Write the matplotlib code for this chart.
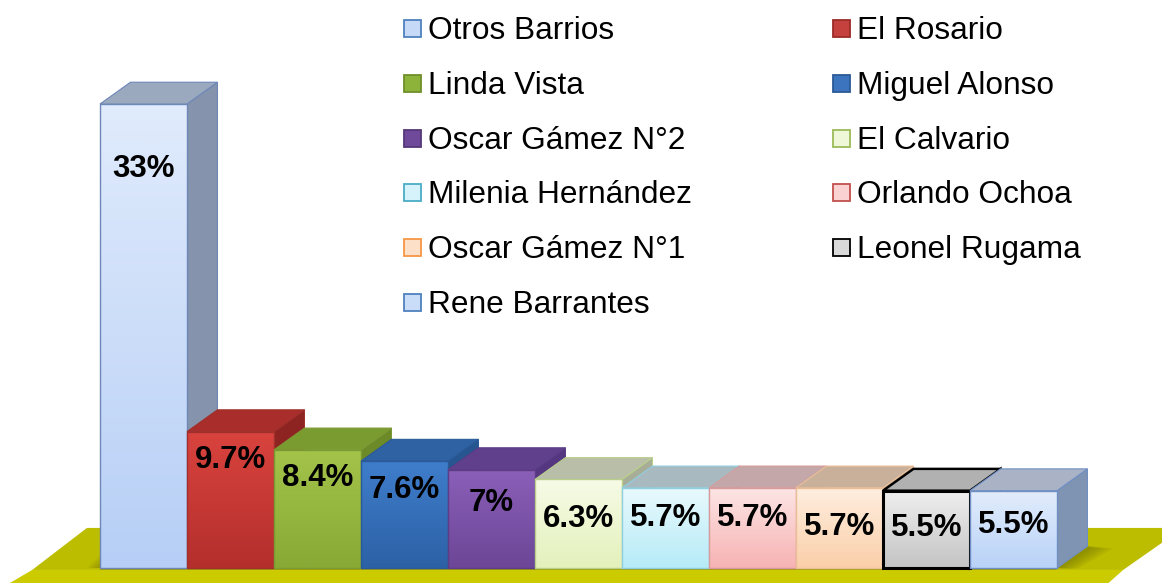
import numpy as np
import matplotlib
matplotlib.use("Agg")
import matplotlib.pyplot as plt
from matplotlib.patches import Polygon, Rectangle
from matplotlib.colors import LinearSegmentedColormap

plt.rcParams['font.family'] = ['Liberation Sans', 'DejaVu Sans']

# ---------------- data ----------------
categories = ["Otros Barrios", "El Rosario", "Linda Vista", "Miguel Alonso",
              "Oscar Gámez N°2", "El Calvario", "Milenia Hernández",
              "Orlando Ochoa", "Oscar Gámez N°1", "Leonel Rugama",
              "Rene Barrantes"]
values = [33, 9.7, 8.4, 7.6, 7, 6.3, 5.7, 5.7, 5.7, 5.5, 5.5]
value_labels = ["33%", "9.7%", "8.4%", "7.6%", "7%", "6.3%", "5.7%",
                "5.7%", "5.7%", "5.5%", "5.5%"]

# ---------------- styles ----------------
front_top = ["#e0ebfc", "#d9433e", "#a3c34a", "#3f7dcb", "#8a5fb8", "#f6fbe6",
             "#e9f9fd", "#fde5e5", "#feeedf", "#efefef", "#e2edfc"]
front_bot = ["#b7cff6", "#b42f2c", "#88aa35", "#2c61a6", "#6c4697", "#e4f1bc",
             "#b6ebf7", "#f7b3b3", "#fbcfaa", "#c4c4c4", "#b9d2f7"]
top_col = ["#9ba9be", "#a92d2a", "#7a9b2f", "#2e62a3", "#603f8c", "#b8bea7",
           "#a9b9c0", "#c4a7a8", "#c9b09a", "#b1b1b1", "#a9b3c5"]
side_col = ["#8594ac", "#8e2422", "#6d8a29", "#275590", "#543780", "#a7ad96",
            "#98a8af", "#b39899", "#b6a08c", "#9e9e9e", "#7f93b3"]
edge_col = ["#6d87b8", "#a0302c", "#7c9a33", "#2a5a99", "#5c3d86", "#b9cf8a",
            "#8fcfe0", "#d89a9a", "#eabf98", "#000000", "#6f8fc4"]
edge_w = [1.0, 1.0, 1.0, 1.0, 1.0, 1.0, 1.0, 1.0, 1.0, 2.2, 1.0]
legend_face = ["#c6d9f7", "#c4413d", "#8db33a", "#3c74be", "#6f4a9b", "#eef8d8",
               "#d6f3fb", "#fbd2d2", "#fde0c8", "#d9d9d9", "#c9dcf8"]
legend_edge = ["#4f81bd", "#9c2b28", "#6e8f2a", "#2b5a96", "#553878", "#9bbb59",
               "#4bacc6", "#c0504d", "#f79646", "#000000", "#4f81bd"]
label_drop = [4.6, 2.0, 2.0, 2.05, 2.38, 2.81, 2.14, 2.14, 2.78, 2.65, 2.44]

W_PX, H_PX = 1162, 583
fig = plt.figure(figsize=(W_PX / 100, H_PX / 100), dpi=100)
ax = fig.add_axes([0, 0, 1, 1])
ax.set_axis_off()

n = len(values)
DX, DY = 0.35, 1.55          # 3-D depth offsets (x in bar units, y in %)
XLIM = (-1.6494, 11.7069)
YLIM = (-1.067, 40.398)

# ---------------- floor ----------------
floor_back = 2.85
floor_front = -0.14
floor_bot = -1.3
ax.add_patch(Polygon([(-0.65, floor_back), (n + 0.95, floor_back),
                      (n + 0.26, floor_front), (-1.28, floor_front)],
                     closed=True, facecolor="#bdbd00", edgecolor="none", zorder=1))
ax.add_patch(Polygon([(-1.28, floor_front), (n + 0.26, floor_front),
                      (n + 0.05, floor_bot), (-1.6, floor_bot)],
                     closed=True, facecolor="#cbcb00", edgecolor="none", zorder=1))
# soft shadows on floor
for k in range(6):
    s = 0.05 * (k + 1)
    ax.add_patch(Polygon([(n - 0.5, 0), (n - 0.5 + DX, DY),
                          (n - 0.5 + DX + s, DY - 0.15), (n - 0.5 + s * 0.8, -0.05)],
                         closed=True, facecolor="#4a4a00", alpha=0.07,
                         edgecolor="none", zorder=2))
    ax.add_patch(Polygon([(-0.5, 0), (-0.5 + DX, DY),
                          (-0.5 + DX - s * 0.8, DY + 0.1), (-0.5 - s * 0.5, 0.0)],
                         closed=True, facecolor="#4a4a00", alpha=0.06,
                         edgecolor="none", zorder=2))
ax.add_patch(Polygon([(-0.5, -0.02), (n - 0.5, -0.02), (n - 0.5, -0.14),
                      (-0.5, -0.14)], closed=True, facecolor="#5a5a00",
                     alpha=0.3, edgecolor="none", zorder=2))

# ---------------- bars ----------------
x = np.arange(n)
bars = ax.bar(x, values, width=1.0, color="none", edgecolor="none", zorder=3)
grad = np.linspace(0, 1, 64).reshape(-1, 1)
for i, (b, v) in enumerate(zip(bars, values)):
    z = 5 + i * 4
    x0 = b.get_x()
    w = b.get_width()
    # side face
    ax.add_patch(Polygon([(x0 + w, 0), (x0 + w + DX, DY), (x0 + w + DX, v + DY),
                          (x0 + w, v)], closed=True, facecolor=side_col[i],
                         edgecolor=edge_col[i], linewidth=edge_w[i] * 0.8, zorder=z))
    # front face gradient (light top -> darker bottom)
    cmap = LinearSegmentedColormap.from_list("g%d" % i, [front_top[i], front_bot[i]])
    clip = Rectangle((x0, 0), w, v, transform=ax.transData)
    im = ax.imshow(grad, cmap=cmap, extent=[x0, x0 + w, 0, v], aspect="auto",
                   origin="upper", zorder=z + 1, interpolation="bilinear")
    im.set_clip_path(clip)
    ax.add_patch(Rectangle((x0, 0), w, v, facecolor="none", edgecolor=edge_col[i],
                           linewidth=edge_w[i], zorder=z + 2))
    # top face
    ax.add_patch(Polygon([(x0, v), (x0 + w, v), (x0 + w + DX, v + DY), (x0 + DX, v + DY)],
                         closed=True, facecolor=top_col[i], edgecolor=edge_col[i],
                         linewidth=edge_w[i] * 0.8, zorder=z + 2))
    # value label
    ax.text(x0 + w / 2, v - label_drop[i], value_labels[i], ha="center",
            va="center", fontsize=22.5, fontweight="bold", color="black",
            zorder=100)

ax.set_xlim(*XLIM)
ax.set_ylim(*YLIM)

# ---------------- legend (2 columns, row-major) ----------------
col_x = [404, 833]
row_y0, row_dy = 28.5, 54.8
msz = 17
for i, name in enumerate(categories):
    r, c = divmod(i, 2)
    xm = col_x[c]
    yc = row_y0 + r * row_dy
    fig.add_artist(Rectangle((xm / W_PX, 1 - (yc + msz / 2) / H_PX),
                             msz / W_PX, msz / H_PX, transform=fig.transFigure,
                             facecolor=legend_face[i], edgecolor=legend_edge[i],
                             linewidth=1.3))
    fig.text((xm + 24) / W_PX, 1 - (yc + 10.5) / H_PX, name, ha="left",
             va="baseline", fontsize=22.8, color="black")

fig.savefig("out.png", dpi=100)
